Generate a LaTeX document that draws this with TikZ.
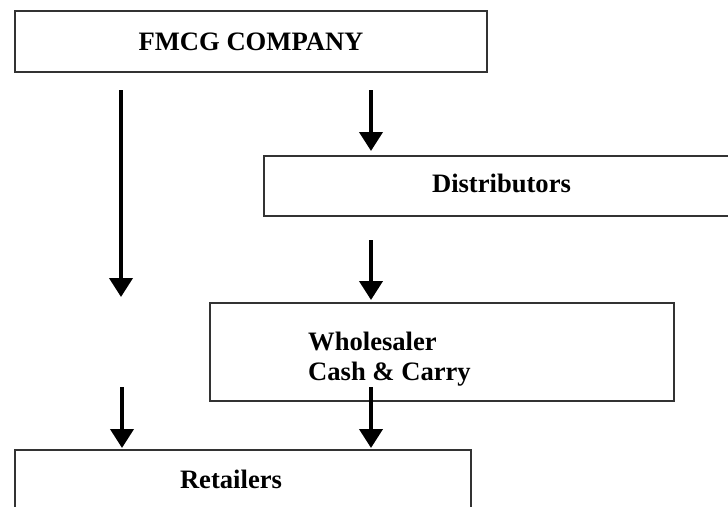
\documentclass[tikz,border=0pt]{standalone}
\usepackage{fontspec}
\setmainfont{Liberation Serif}
\usetikzlibrary{arrows.meta}
\begin{document}
\begin{tikzpicture}[x=1pt,y=-1pt,
  box/.style={draw=black!80,line width=1.6pt,inner sep=0pt},
  lbl/.style={inner sep=0pt,font=\bfseries\fontsize{26.6}{30}\selectfont},
  flow/.style={line width=4pt,-{Triangle[width=23pt,length=19pt]}}]
\useasboundingbox (0,0) rectangle (728,506);
% boxes
\draw[box] (15,11) rectangle (487,72);
\draw[box] (264,156) rectangle (739,216);
\draw[box] (210,303) rectangle (674,401);
\draw[box] (15,450) rectangle (471,520);
% labels
\node[lbl,anchor=base] (fmcg) at (251,50.7) {FMCG COMPANY};
\node[lbl,anchor=base] (dist) at (501.5,192) {Distributors};
\node[lbl,anchor=base west] (whole) at (308,350) {Wholesaler};
\node[lbl,anchor=base west] (cash) at (308,380) {Cash \& Carry};
\node[lbl,anchor=base] (ret) at (231,488) {Retailers};
% arrow ends
\coordinate (a1s) at (121,90);  \coordinate (a1e) at (121,297);
\coordinate (a2s) at (371,90);  \coordinate (a2e) at (371,151);
\coordinate (a3s) at (371,240); \coordinate (a3e) at (371,300);
\coordinate (a4s) at (122,387); \coordinate (a4e) at (122,448);
\coordinate (a5s) at (371,387); \coordinate (a5e) at (371,448);
\draw[flow] (a1s) -- (a1e);
\draw[flow] (a2s) -- (a2e);
\draw[flow] (a3s) -- (a3e);
\draw[flow] (a4s) -- (a4e);
\draw[flow] (a5s) -- (a5e);
\end{tikzpicture}
\end{document}
